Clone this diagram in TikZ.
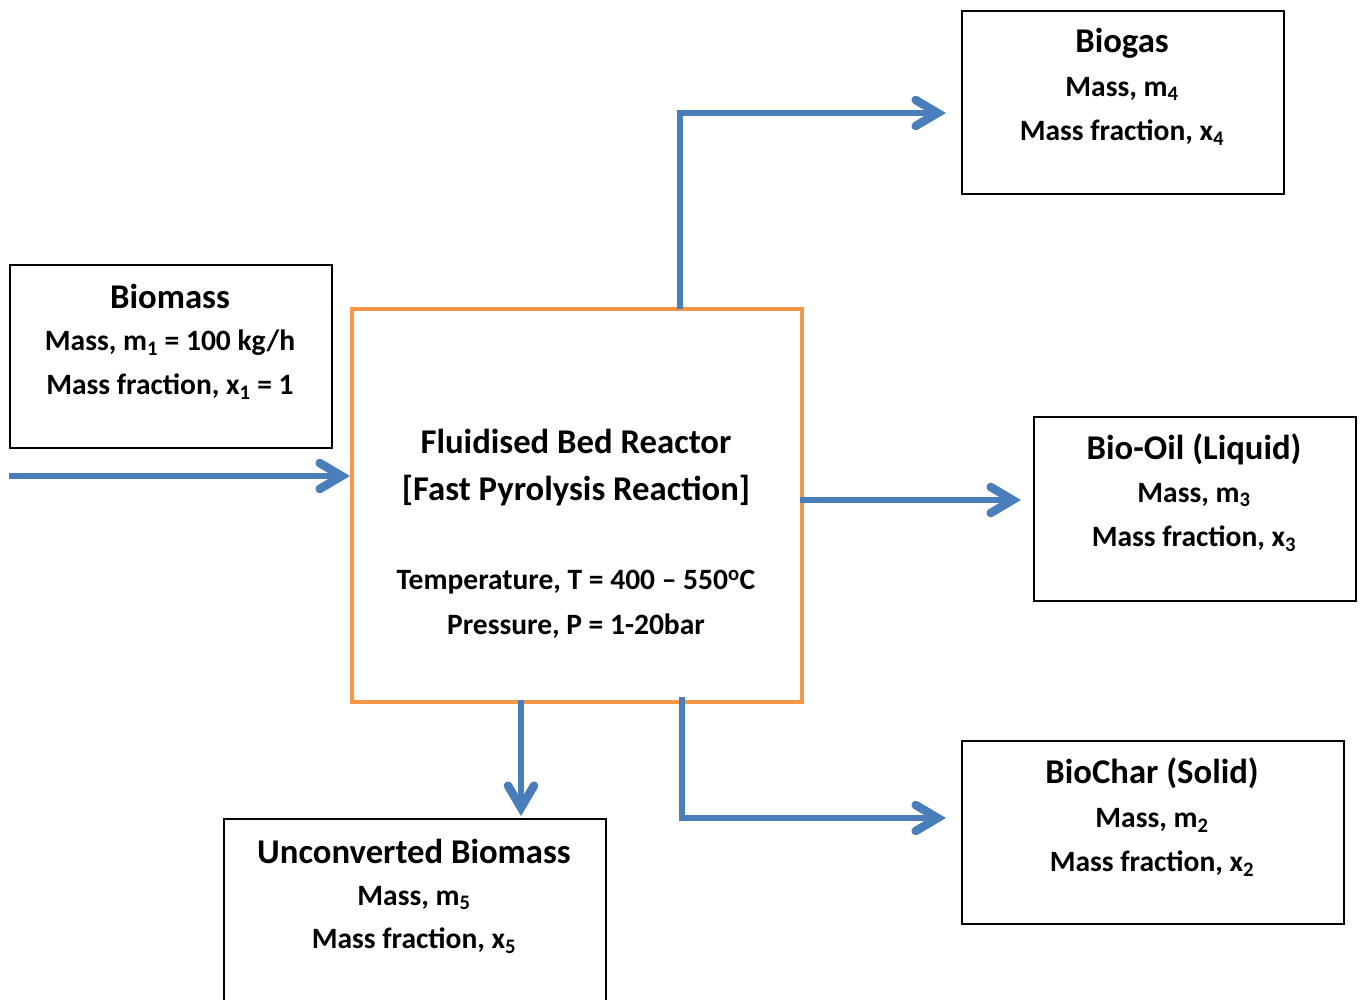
\documentclass[tikz,border=0pt]{standalone}
\usepackage{fontspec}
\setmainfont{Carlito}
\usetikzlibrary{arrows.meta}
\definecolor{flowblue}{HTML}{4A7EBB}
\definecolor{reactororange}{HTML}{F79646}
\tikzset{
  box/.style={draw=black, line width=2pt},
  reactorbox/.style={draw=reactororange, line width=4pt},
  title/.style={font=\fontsize{34.7}{40}\selectfont\bfseries, inner sep=0pt, anchor=center},
  sub/.style={font=\fontsize{29.5}{34}\selectfont\bfseries, inner sep=0pt, anchor=center},
  flow/.style={draw=flowblue, line width=6.5pt, -{Straight Barb[length=22pt,width=26pt,line width=8.5pt,line cap=round,line join=miter]}},
}
\begin{document}
\begin{tikzpicture}[x=1pt,y=-1pt]
\useasboundingbox (0,0) rectangle (1360,999);
\begin{scope}
\clip (0,0) rectangle (1360,999);
% boxes
\node[box, minimum width=322pt, minimum height=183pt, anchor=north west] (bio) at (9,264) {};
\node[reactorbox, minimum width=450pt, minimum height=393pt, anchor=north west] (reac) at (350,307) {};
\node[box, minimum width=322pt, minimum height=183pt, anchor=north west] (gas) at (961,10) {};
\node[box, minimum width=322pt, minimum height=184pt, anchor=north west] (oil) at (1033,416) {};
\node[box, minimum width=382pt, minimum height=183pt, anchor=north west] (char) at (961,740) {};
\node[box, minimum width=382pt, minimum height=220pt, anchor=north west] (unc) at (223,818) {};
\end{scope}
% texts
\node[title] (bioT) at (170,296) {Biomass};
\node[sub] (bioA) at (170,343) {Mass, m\textsubscript{1} = 100 kg/h};
\node[sub] (bioB) at (170,387) {Mass fraction, x\textsubscript{1} = 1};

\node[title] (reT1) at (576,441) {Fluidised Bed Reactor};
\node[title] (reT2) at (576,491) {[Fast Pyrolysis Reaction]};
\node[sub] (reA) at (576,582) {Temperature, T = 400 -- 550\textsuperscript{o}C};
\node[sub] (reB) at (576,626) {Pressure, P = 1-20bar};

\node[title] (gasT) at (1122,43) {Biogas};
\node[sub] (gasA) at (1122,89) {Mass, m\textsubscript{4}};
\node[sub] (gasB) at (1122,133) {Mass fraction, x\textsubscript{4}};

\node[title] (oilT) at (1194,449) {Bio-Oil (Liquid)};
\node[sub] (oilA) at (1194,495) {Mass, m\textsubscript{3}};
\node[sub] (oilB) at (1194,539) {Mass fraction, x\textsubscript{3}};

\node[title] (charT) at (1152,773) {BioChar (Solid)};
\node[sub] (charA) at (1152,820) {Mass, m\textsubscript{2}};
\node[sub] (charB) at (1152,864) {Mass fraction, x\textsubscript{2}};

\node[title] (uncT) at (414,851) {Unconverted Biomass};
\node[sub] (uncA) at (414,898) {Mass, m\textsubscript{5}};
\node[sub] (uncB) at (414,941) {Mass fraction, x\textsubscript{5}};

% connector coordinates
\coordinate (inStart) at (9,476);
\coordinate (inEnd) at (350,476);
\coordinate (gasStart) at (680,309);
\coordinate (gasBend) at (680,113);
\coordinate (gasEnd) at (946,113);
\coordinate (oilStart) at (800,500);
\coordinate (oilEnd) at (1021,500);
\coordinate (uncStart) at (521,700);
\coordinate (uncEnd) at (521,816);
\coordinate (charStart) at (682,697);
\coordinate (charBend) at (682,818);
\coordinate (charEnd) at (946,818);

\draw[flow] (inStart) -- (inEnd);
\draw[flow] (gasStart) -- (gasBend) -- (gasEnd);
\draw[flow] (oilStart) -- (oilEnd);
\draw[flow] (uncStart) -- (uncEnd);
\draw[flow] (charStart) -- (charBend) -- (charEnd);
\end{tikzpicture}
\end{document}
